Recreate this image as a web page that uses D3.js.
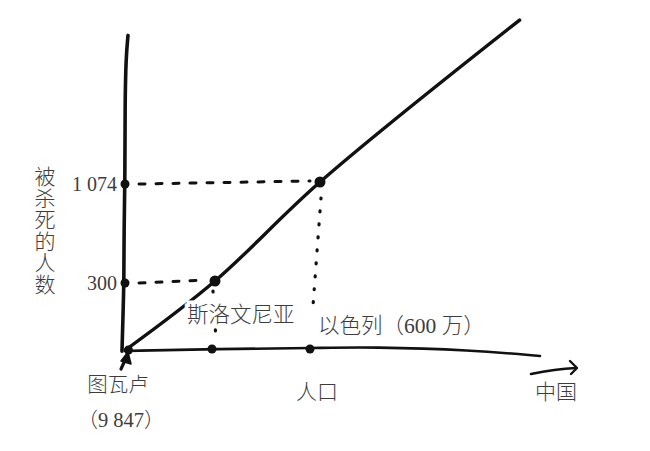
<!DOCTYPE html>
<html><head><meta charset="utf-8">
<script src="https://cdn.jsdelivr.net/npm/d3@7"></script>
<style>
html,body{margin:0;padding:0;background:#fff;}
svg{display:block;}
text{font-family:"Liberation Serif","Noto Sans CJK SC",serif;fill:#3d3d3d;font-weight:300;}
</style></head>
<body>
<svg id="chart" width="650" height="451"></svg>
<script>
// ---- data ----
const countries = ["图瓦卢", "斯洛文尼亚", "以色列"];
const population = [9847, 2000000, 6000000];
const killed = [0, 300, 1074];
const yTickValues = [300, 1074];
const yTickLabels = ["300", "1 074"];
const xAxisEndLabel = "中国";
const xAxisEndPopulation = 1300000000;
const yAxisTop = 2220;
const trendTailPopulation = [1180000000];
const trendTailKilled = [2340];
const yTitle = "被杀死的人数";
const xTitle = "人口";
const tuvaluNote = "（9 847）";
const pointLabels = ["斯洛文尼亚", "以色列（600 万）"];

// ---- scales (hand-sketched, piecewise) ----
const x = d3.scaleLinear().domain([0, 2000000, 6000000, 1300000000]).range([125, 215, 320, 540]);
const y = d3.scaleLinear().domain([0, 300, 1074]).range([350, 281, 182]);

const svg = d3.select("#chart");
const ink = "#111";
// hand-drawn drift of the axis marks relative to the curve points
const axisDrift = [0, -3, -10];

// y axis (slightly wobbly hand-drawn line)
const yAxisPts = [[-5, -3], [150, -2], [300, -1], [700, -1], [1074, 0], [1700, 0], [2050, 1], [yAxisTop, 3]];
svg.append("path")
  .attr("d", d3.line().x(d => x(0) + d[1]).y(d => y(d[0])).curve(d3.curveBasis)(yAxisPts))
  .attr("fill", "none").attr("stroke", ink).attr("stroke-width", 3.6).attr("stroke-linecap", "round");

// x axis (slight sag at the end)
const xAxisPts = [[0, 1], [2000000, -1], [6000000, -2], [300000000, -3], [900000000, 0], [xAxisEndPopulation, 6]];
svg.append("path")
  .attr("d", d3.line().x(d => x(d[0])).y(d => y(0) + d[1]).curve(d3.curveBasis)(xAxisPts))
  .attr("fill", "none").attr("stroke", ink).attr("stroke-width", 2.6).attr("stroke-linecap", "round");

// dotted guides
const dashStyle = sel => sel.attr("fill", "none").attr("stroke", ink).attr("stroke-width", 3)
  .attr("stroke-dasharray", "6,11").attr("stroke-linecap", "round");
const dotStyle = sel => sel.attr("fill", "none").attr("stroke", ink).attr("stroke-width", 3.2)
  .attr("stroke-dasharray", "1,12").attr("stroke-linecap", "round");
[1, 2].forEach(i => {
  svg.append("line").attr("x1", x(0) + 14).attr("y1", y(killed[i]) + 2)
    .attr("x2", x(population[i]) - 10).attr("y2", y(killed[i]) - 1).call(dashStyle);
});
// vertical dotted drops
svg.append("line").attr("x1", x(population[2]) + 1).attr("y1", y(killed[2]) + 16)
  .attr("x2", x(population[2]) - 7).attr("y2", y(0) - 44).call(dotStyle);
svg.append("line").attr("x1", x(population[1]) - 2).attr("y1", y(killed[1]) + 10)
  .attr("x2", x(population[1]) + 1).attr("y2", y(0) - 10).call(dotStyle);

// trend curve
const trend = population.map((p, i) => [p, killed[i]])
  .concat(trendTailPopulation.map((p, i) => [p, trendTailKilled[i]]));
svg.append("path")
  .attr("d", d3.line().x(d => x(d[0])).y(d => y(d[1])).curve(d3.curveCatmullRom)(trend))
  .attr("fill", "none").attr("stroke", ink).attr("stroke-width", 3.4).attr("stroke-linecap", "round");

// points on curve
svg.selectAll(".pt").data(population.slice(1)).join("circle")
  .attr("cx", d => x(d)).attr("cy", (d, i) => y(killed[i + 1])).attr("r", 5.5).attr("fill", ink);
svg.append("circle").attr("cx", x(population[0]) + 3).attr("cy", y(0)).attr("r", 4.5).attr("fill", ink);
// dots on x axis
svg.selectAll(".xd").data(population.slice(1)).join("circle")
  .attr("cx", (d, i) => x(d) + axisDrift[i + 1]).attr("cy", y(0) - 1).attr("r", 4.5).attr("fill", ink);
// dots on y axis
svg.selectAll(".yd").data(yTickValues).join("circle")
  .attr("cx", x(0)).attr("cy", d => y(d) + 2).attr("r", 4.5).attr("fill", ink);

// y tick labels
svg.selectAll(".yl").data(yTickValues).join("text")
  .attr("x", x(0) - 8).attr("y", d => y(d) + 2).attr("dy", "0.35em")
  .attr("text-anchor", "end").attr("font-size", 20).text((d, i) => yTickLabels[i]);

// y title vertical (single text, vertical writing)
svg.append("text")
  .attr("x", 43).attr("y", 166)
  .attr("writing-mode", "vertical-rl")
  .style("writing-mode", "vertical-rl")
  .attr("font-size", 21).attr("letter-spacing", 0.5).text(yTitle);

const halo = sel => sel.attr("stroke", "#fff").attr("stroke-width", 7).attr("paint-order", "stroke");

// point labels
svg.append("text").attr("x", x(population[1]) - 28).attr("y", 314).attr("dy", "0.35em")
  .attr("font-size", 21.5).call(halo).text(pointLabels[0]);
svg.append("text").attr("x", x(population[2]) - 2).attr("y", 325).attr("dy", "0.35em")
  .attr("font-size", 21.5).call(halo).text(pointLabels[1]);

// Tuvalu label + arrow
svg.append("text").attr("x", x(0) - 7).attr("y", 385).attr("dy", "0.35em")
  .attr("text-anchor", "middle").attr("font-size", 20.5).text(countries[0]);
svg.append("text").attr("x", x(0) - 4).attr("y", 420).attr("dy", "0.35em")
  .attr("text-anchor", "middle").attr("font-size", 20.5).text(tuvaluNote);
svg.append("line").attr("x1", x(0) - 4).attr("y1", y(0) + 19).attr("x2", x(0) + 1).attr("y2", y(0) + 8)
  .attr("stroke", ink).attr("stroke-width", 3.2).attr("stroke-linecap", "round");
svg.append("path").attr("d", `M${x(0) - 4},${y(0) + 11} L${x(0) + 3},${y(0) + 2} L${x(0) + 6},${y(0) + 14} Z`)
  .attr("fill", ink).attr("stroke", ink).attr("stroke-width", 1.5).attr("stroke-linejoin", "round");

// x title and end label
svg.append("text").attr("x", x(6000000) - 3).attr("y", 392).attr("dy", "0.35em")
  .attr("text-anchor", "middle").attr("font-size", 21).text(xTitle);
svg.append("text").attr("x", x(xAxisEndPopulation) + 16).attr("y", 392).attr("dy", "0.35em")
  .attr("text-anchor", "middle").attr("font-size", 21).text(xAxisEndLabel);

// China arrow
const ax = x(xAxisEndPopulation);
svg.append("path").attr("d", `M${ax - 9},${y(0) + 24} Q${ax + 15},${y(0) + 19} ${ax + 36},${y(0) + 18}`)
  .attr("fill", "none").attr("stroke", ink).attr("stroke-width", 2.6).attr("stroke-linecap", "round");
svg.append("path").attr("d", `M${ax + 30},${y(0) + 11} L${ax + 37},${y(0) + 18} L${ax + 31},${y(0) + 24}`)
  .attr("fill", "none").attr("stroke", ink).attr("stroke-width", 2.4).attr("stroke-linecap", "round").attr("stroke-linejoin", "round");
</script>
</body></html>
